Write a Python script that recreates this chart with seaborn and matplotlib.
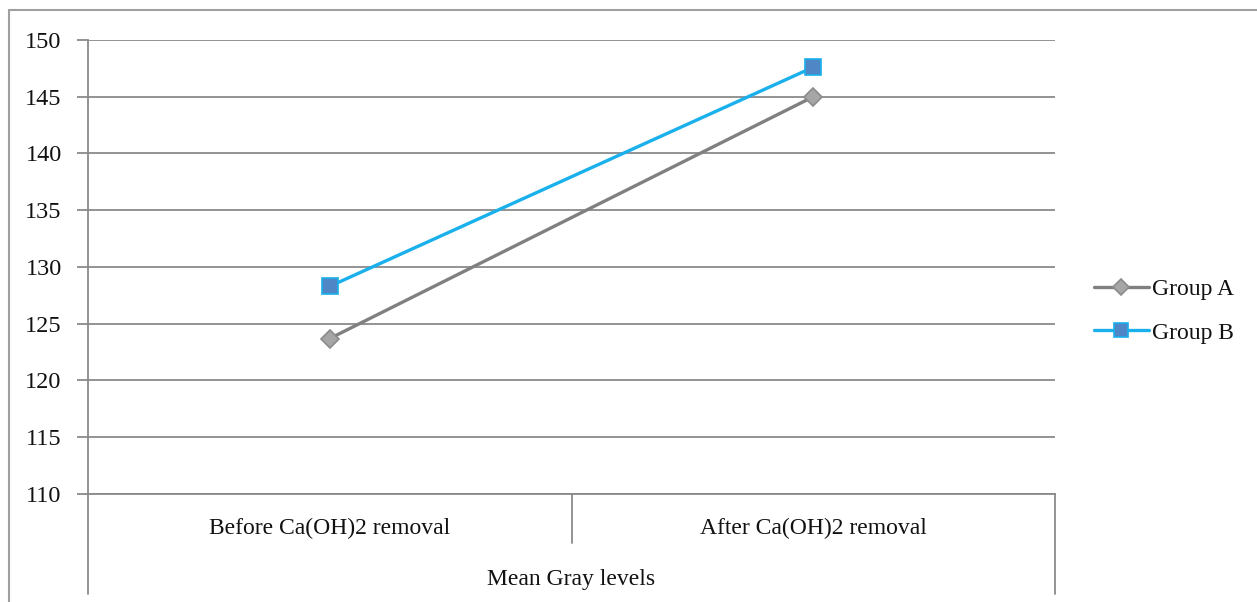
import matplotlib
matplotlib.use("Agg")
import matplotlib.pyplot as plt
import seaborn as sns
import pandas as pd
from matplotlib.lines import Line2D

categories = ["Before Ca(OH)2 removal", "After Ca(OH)2 removal"]
group_a = [123.7, 145.0]
group_b = [128.3, 147.6]
series_names = ["Group A", "Group B"]
axis_group_label = "Mean Gray levels"
yticks = [110, 115, 120, 125, 130, 135, 140, 145, 150]

df = pd.DataFrame({
    "Category": categories * 2,
    "Value": group_a + group_b,
    "Group": [series_names[0]] * 2 + [series_names[1]] * 2,
})

sns.set_theme(style="white")
plt.rcParams['font.family'] = ['Liberation Serif', 'DejaVu Serif']

W, H = 1257, 602
fig = plt.figure(figsize=(W / 100, H / 100), dpi=100)
ax = fig.add_axes([88 / W, 1 - 494 / H, (1055 - 88) / W, (494 - 40) / H])

palette = {"Group A": "#808080", "Group B": "#1ab0ec"}
sns.lineplot(data=df, x="Category", y="Value", hue="Group", style="Group",
             markers={"Group A": "D", "Group B": "s"}, dashes=False,
             palette=palette, linewidth=2.4, ax=ax, legend=False, sort=False)

# marker styling
mstyle = {"Group A": dict(mfc="#a6a6a6", mec="#8c8c8c", ms=9),
          "Group B": dict(mfc="#4f86c6", mec="#1ab0ec", ms=11)}
for line, name in zip(ax.get_lines(), series_names):
    st = mstyle[name]
    line.set_markerfacecolor(st["mfc"])
    line.set_markeredgecolor(st["mec"])
    line.set_markersize(st["ms"])
    line.set_markeredgewidth(1.2)

ax.set_xlim(-0.5, 1.5)
ax.set_ylim(110, 150)
ax.set_yticks(yticks)
ax.set_yticklabels([str(t) for t in yticks])
ax.set_xticks([])
ax.set_xlabel("")
ax.set_ylabel("")
gc = "#8a8a8a"
ax.grid(axis="y", color=gc, linewidth=1.3)
ax.set_axisbelow(True)
for s in ["top", "right"]:
    ax.spines[s].set_visible(False)
for s in ["left", "bottom"]:
    ax.spines[s].set_color(gc)
    ax.spines[s].set_linewidth(1.3)
ax.tick_params(axis="y", which="both", left=True, length=8, width=1.3,
               color=gc, pad=11, labelsize=17.5, labelcolor="#111111")

# multi-level category axis
tr = ax.get_xaxis_transform()
ah = 494 - 40
ax.plot([0.5, 0.5], [0, -49 / ah], transform=tr, color=gc, lw=1.3, clip_on=False)
ax.plot([-0.5, -0.5], [0, -100 / ah], transform=tr, color=gc, lw=1.3, clip_on=False)
ax.plot([1.5, 1.5], [0, -100 / ah], transform=tr, color=gc, lw=1.3, clip_on=False)
for i, c in enumerate(categories):
    ax.text(i, -34 / ah, c, transform=tr, ha="center", va="center",
            fontsize=17, color="#111111")
ax.text(0.5, -85 / ah, axis_group_label, transform=tr, ha="center", va="center",
        fontsize=17, color="#111111")

# legend
handles = [Line2D([0], [0], color=palette[n], lw=2.4, marker=("D" if n == "Group A" else "s"),
                  markerfacecolor=mstyle[n]["mfc"], markeredgecolor=mstyle[n]["mec"],
                  markersize=mstyle[n]["ms"] - 1, markeredgewidth=1.2)
           for n in series_names]
leg = fig.legend(handles, series_names, loc="center left",
                 bbox_to_anchor=(1073 / W, 1 - 311 / H), frameon=False,
                 fontsize=17, handlelength=2.3, handletextpad=0.15,
                 labelspacing=0.95)
for t in leg.get_texts():
    t.set_color("#111111")

# outer chart frame
fig.add_artist(Line2D([9 / W, 1.0], [1 - 10 / H, 1 - 10 / H], color="#a0a0a0", lw=1.5,
                      transform=fig.transFigure))
fig.add_artist(Line2D([9 / W, 9 / W], [1 - 10 / H, 0.0], color="#a0a0a0", lw=1.5,
                      transform=fig.transFigure))

fig.savefig("out.png", dpi=100)
